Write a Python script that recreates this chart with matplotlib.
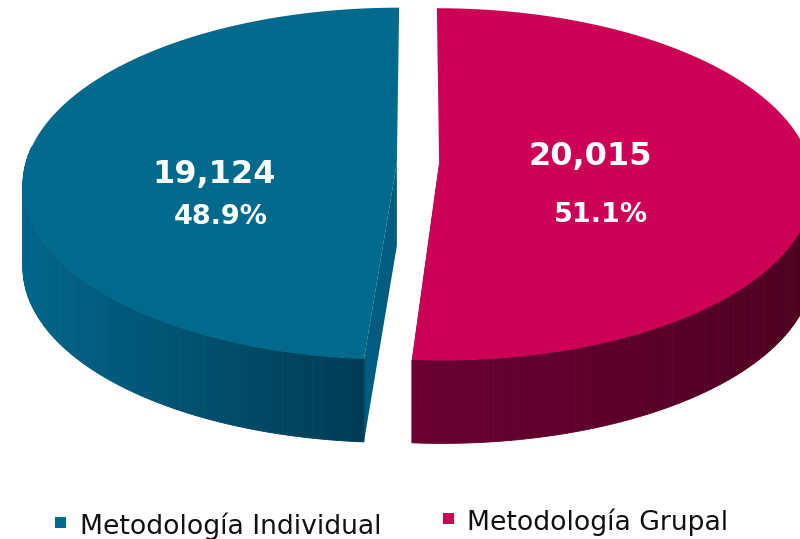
import numpy as np
import matplotlib.pyplot as plt
from matplotlib.patches import Polygon, Rectangle
from matplotlib.colors import to_rgb

# data
labels = ["Metodología Individual", "Metodología Grupal"]
values = np.array([19124, 20015])
top_colors = ["#006A8C", "#CC0055"]
side_light = ["#00658A", "#6A0032"]
side_dark = ["#003B54", "#4E0020"]
radial_colors = ["#005C7E", "#6A0032"]

total = values.sum()
pct = values / total * 100

# perspective pie geometry (pixels)
cx, cy = 418, 163
A, B, k = 371, 173.5, 0.119
depth = 83
explode = 0.057


def proj(u, v):
    w = 1 + k * v
    return cx + A * u / w, cy - B * v / w


fig = plt.figure(figsize=(8, 5.39), dpi=100)
ax = fig.add_axes([0, 0, 1, 1])
ax.set_xlim(0, 800)
ax.set_ylim(539, 0)
ax.axis("off")

# Grupal starts at 12 o'clock and goes clockwise, Individual follows
order = [1, 0]
start = 90.0
for i in order:
    sweep = values[i] / total * 360
    t0, t1 = start, start - sweep
    start = t1
    mid = np.radians((t0 + t1) / 2)
    ou, ov = explode * np.cos(mid), explode * np.sin(mid)
    th = np.radians(np.linspace(t0, t1, 300))
    xs, ys = proj(ou + np.cos(th), ov + np.sin(th))
    cxx, cyy = proj(ou, ov)

    # radial faces (only the front one can be seen)
    for j in (0, -1):
        if np.sin(th[j]) > 0:
            continue
        quad = [(cxx, cyy), (xs[j], ys[j]), (xs[j], ys[j] + depth), (cxx, cyy + depth)]
        ax.add_patch(Polygon(quad, closed=True, fc=radial_colors[i], ec="none"))

    # outer side, only the front half
    front = np.sin(th) < 0.1
    xmin, xmax = xs[front].min(), xs[front].max()
    c_l, c_d = np.array(to_rgb(side_light[i])), np.array(to_rgb(side_dark[i]))
    for j in range(len(th) - 1):
        if not (front[j] and front[j + 1]):
            continue
        xm = (xs[j] + xs[j + 1]) / 2
        f = np.clip((xm - xmin) / (xmax - xmin), 0, 1)
        col = c_l + (c_d - c_l) * f
        quad = [(xs[j], ys[j]), (xs[j + 1], ys[j + 1]),
                (xs[j + 1], ys[j + 1] + depth), (xs[j], ys[j] + depth)]
        ax.add_patch(Polygon(quad, closed=True, fc=col, ec=col, lw=0.6))

    # top face
    pts = np.column_stack([np.r_[cxx, xs], np.r_[cyy, ys]])
    ax.add_patch(Polygon(pts, closed=True, fc=top_colors[i], ec="none"))

# value labels
val_pos = [(214, 175), (590, 157)]
pct_pos = [(221, 217), (601, 215)]
for i in range(2):
    ax.text(*val_pos[i], f"{values[i]:,}", color="white", fontsize=23,
            fontweight="bold", ha="center", va="center")
    ax.text(*pct_pos[i], f"{pct[i]:.1f}%", color="white", fontsize=19.5,
            fontweight="bold", ha="center", va="center")

# legend
leg_box = [(55, 517), (443, 513)]
leg_text = [(80, 534), (467, 530)]
for i in range(2):
    ax.add_patch(Rectangle(leg_box[i], 11, 11, fc=top_colors[i], ec="none"))
    ax.text(*leg_text[i], labels[i], fontsize=19.2, color="#111111",
            ha="left", va="baseline")

fig.savefig("out.png", dpi=100)
